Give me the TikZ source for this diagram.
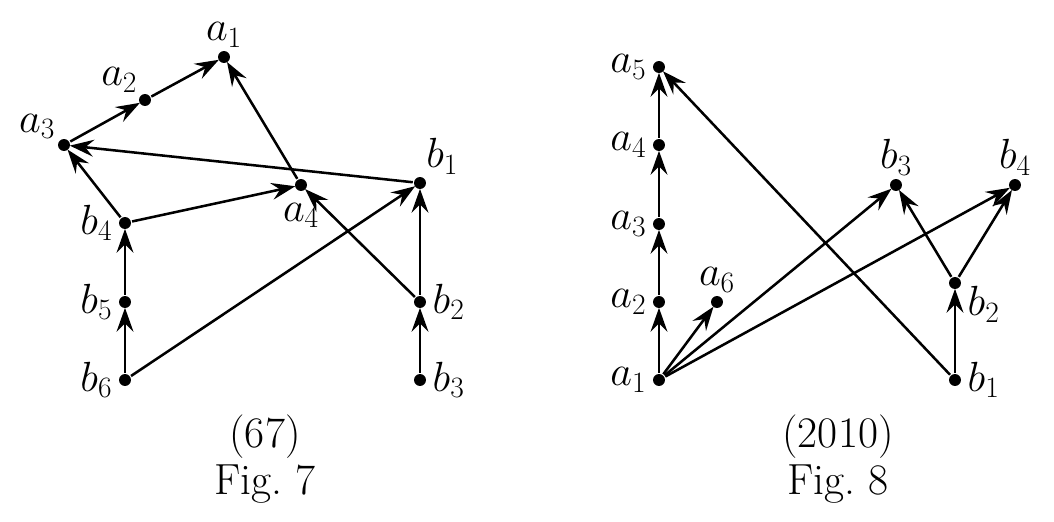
\RequirePackage{fix-cm}
\documentclass[tikz,border=0pt]{standalone}
\usetikzlibrary{arrows.meta}

\begin{document}
\begin{tikzpicture}[x=0.025cm, y=-0.025cm, line width=1.8pt,
    pt/.style={circle, fill=black, inner sep=0pt, minimum size=8.5pt},
    arr/.style={-{Stealth[length=17pt, width=12pt, inset=6pt]}, shorten >=-1pt},
    lbl/.style={font=\fontsize{31}{36}\selectfont}]
        \useasboundingbox (0,0) rectangle (1054,521);
        \tikzset{every label/.style={font=\fontsize{30}{34}\selectfont, inner sep=1pt}}

        % fig 7 points
        \node[pt, label={[label distance=0pt]above:$a_1$}] (a1) at (224,57) {};
        \node[pt, label={[label distance=0pt]above left:$a_2$}] (a2) at (145,100) {};
        \node[pt, label={[label distance=0pt]150:$a_3$}] (a3) at (64,145) {};
        \node[pt, label={[label distance=0pt]60:$b_1$}] (b1) at (420,183) {};
        \node[pt, label={[label distance=6pt]below:$a_4$}] (a4) at (301,185) {};
        \node[pt, label={[label distance=2pt]left:$b_4$}] (b4) at (125,223) {};
        \node[pt, label={[label distance=2pt]left:$b_5$}] (b5) at (125,302) {};
        \node[pt, label={[label distance=2pt]left:$b_6$}] (b6) at (125,380) {};
        \node[pt, label={[label distance=2pt]right:$b_2$}] (b2) at (420,302) {};
        \node[pt, label={[label distance=2pt]right:$b_3$}] (b3) at (420,380) {};

        % fig 7 arrows
        \draw[arr] (a3) -- (a2);
        \draw[arr] (a2) -- (a1);
        \draw[arr] (a4) -- (a1);
        \draw[arr] (b1) -- (a3);
        \draw[arr] (b4) -- (a3);
        \draw[arr] (b4) -- (a4);
        \draw[arr] (b2) -- (a4);
        \draw[arr] (b5) -- (b4);
        \draw[arr] (b6) -- (b5);
        \draw[arr] (b6) -- (b1);
        \draw[arr] (b2) -- (b1);
        \draw[arr] (b3) -- (b2);

        % fig 8 points
        \node[pt, label={[label distance=2pt]left:$a_1$}] (c1) at (659,380) {};
        \node[pt, label={[label distance=2pt]left:$a_2$}] (c2) at (659,302) {};
        \node[pt, label={[label distance=2pt]left:$a_3$}] (c3) at (659,224) {};
        \node[pt, label={[label distance=2pt]left:$a_4$}] (c4) at (659,145) {};
        \node[pt, label={[label distance=2pt]left:$a_5$}] (c5) at (659,67) {};
        \node[pt, label={[label distance=0pt]above:$a_6$}] (c6) at (717,302) {};
        \node[pt, label={[label distance=0pt]above:$b_3$}] (d3) at (896,185) {};
        \node[pt, label={[label distance=0pt]above:$b_4$}] (d4) at (1015,185) {};
        \node[pt, label={[label distance=2pt]-5:$b_2$}] (d2) at (955,283) {};
        \node[pt, label={[label distance=2pt]right:$b_1$}] (d1) at (955,380) {};

        % fig 8 arrows
        \draw[arr] (c1) -- (c2);
        \draw[arr] (c2) -- (c3);
        \draw[arr] (c3) -- (c4);
        \draw[arr] (c4) -- (c5);
        \draw[arr] (c1) -- (c6);
        \draw[arr] (c1) -- (d3);
        \draw[arr] (c1) -- (d4);
        \draw[arr] (d1) -- (c5);
        \draw[arr] (d1) -- (d2);
        \draw[arr] (d2) -- (d3);
        \draw[arr] (d2) -- (d4);

        % captions
        \node[lbl] (n7) at (265,437) {(67)};
        \node[lbl] (f7) at (265,484) {Fig.~7};
        \node[lbl] (n8) at (838,437) {(2010)};
        \node[lbl] (f8) at (838,484) {Fig.~8};
\end{tikzpicture}
\end{document}
